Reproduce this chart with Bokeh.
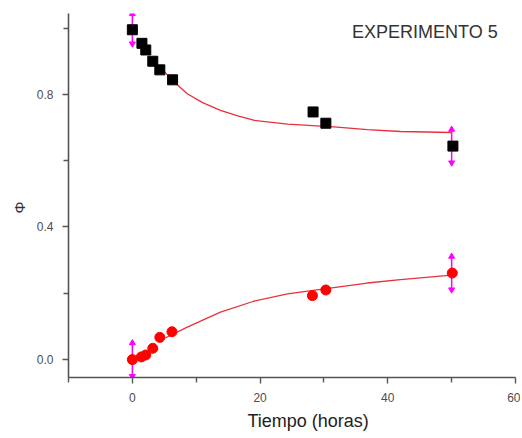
from bokeh.plotting import figure
from bokeh.models import Range1d, FixedTicker, Label, Title, PrintfTickFormatter
from bokeh.embed import file_html
from bokeh.resources import INLINE

# Data
t_black = [0, 1.5, 2.1, 3.2, 4.3, 6.3, 28.3, 30.3, 50.2]
phi_black = [0.995, 0.954, 0.934, 0.90, 0.874, 0.844, 0.747, 0.713, 0.644]
t_red = [0, 1.4, 2.1, 3.2, 4.3, 6.2, 28.2, 30.3, 50.1]
phi_red = [0.0, 0.008, 0.014, 0.034, 0.067, 0.084, 0.193, 0.21, 0.261]

fit_top_t = [4.6, 6.5, 8.6, 11.0, 13.8, 16.5, 19.0, 24.3, 29.5, 31.6, 36.8, 42.0, 50.0]
fit_top_phi = [0.877, 0.838, 0.802, 0.775, 0.752, 0.735, 0.722, 0.710, 0.704, 0.702, 0.694, 0.688, 0.685]
fit_bot_t = [4.9, 8.6, 13.8, 19.0, 24.3, 29.5, 36.8, 42.0, 50.0]
fit_bot_phi = [0.063, 0.098, 0.143, 0.176, 0.198, 0.212, 0.231, 0.241, 0.255]

err_t = [0, 50, 0, 50]
err_c = [0.998, 0.644, 0.0, 0.261]
err_e = [0.045, 0.05, 0.05, 0.05]

x_ticks = [0, 20, 40, 60]
x_minor = [-10, 10, 30, 50]
y_ticks = [0.0, 0.4, 0.8]
y_minor = [0.2, 0.6, 1.0]

FONT = "Liberation Sans"

p = figure(width=520, height=436, output_backend="svg", toolbar_location=None,
           x_range=Range1d(-10, 60), y_range=Range1d(-0.054, 1.044),
           min_border_left=68, min_border_right=5, min_border_top=13, min_border_bottom=59)
p.outline_line_color = None
p.xgrid.grid_line_color = None
p.ygrid.grid_line_color = None
p.background_fill_color = "white"
p.border_fill_color = "white"

for ax in (p.xaxis[0], p.yaxis[0]):
    ax.axis_line_color = "#555555"
    ax.axis_line_width = 1.6
    ax.major_tick_line_color = "#555555"
    ax.minor_tick_line_color = "#555555"
    ax.major_tick_line_width = 1.4
    ax.minor_tick_line_width = 1.4
    ax.major_tick_in = 0
    ax.major_tick_out = 6
    ax.minor_tick_in = 0
    ax.minor_tick_out = 5
    ax.major_label_text_font = FONT
    ax.major_label_text_font_size = "12px"
    ax.major_label_text_color = "#4d4d4d"

p.xaxis.ticker = FixedTicker(ticks=x_ticks, minor_ticks=x_minor)
p.yaxis.ticker = FixedTicker(ticks=y_ticks, minor_ticks=y_minor)
p.yaxis.formatter = PrintfTickFormatter(format="%.1f")
p.xaxis.major_label_standoff = 9
p.yaxis.major_label_standoff = 9

# axis titles (offset to match the reference placement)
p.add_layout(Title(text="Tiempo (horas)", align="left", offset=179, standoff=8,
                   text_font=FONT, text_font_size="18px", text_font_style="normal",
                   text_color="#222222"), "below")
p.add_layout(Title(text="Φ", align="left", offset=164, standoff=12,
                   text_font=FONT, text_font_size="15px", text_font_style="normal",
                   text_color="#333333"), "left")

# fitted curves
p.line(fit_top_t, fit_top_phi, line_color="#e8303c", line_width=1.3)
p.line(fit_bot_t, fit_bot_phi, line_color="#e8303c", line_width=1.3)

# error bars with arrowheads
lo = [c - e for c, e in zip(err_c, err_e)]
hi = [c + e for c, e in zip(err_c, err_e)]
p.segment(x0=err_t, y0=lo, x1=err_t, y1=hi, line_color="#ff00ff", line_width=1.5)
p.scatter(err_t, hi, marker="triangle", size=6, fill_color="#ff00ff", line_color="#ff00ff")
p.scatter(err_t, lo, marker="inverted_triangle", size=6, fill_color="#ff00ff", line_color="#ff00ff")

# data markers
p.scatter(t_black, phi_black, marker="square", size=10, fill_color="black", line_color="black")
p.scatter(t_red, phi_red, marker="circle", size=10, fill_color="#ff0000", line_color="#ff0000")

# annotation text
p.add_layout(Label(x=34.4, y=1.017, text="EXPERIMENTO 5", text_font=FONT,
                   text_font_size="18px", text_color="#333333", text_baseline="top"))

open("out.html", "w").write(file_html(p, INLINE))
